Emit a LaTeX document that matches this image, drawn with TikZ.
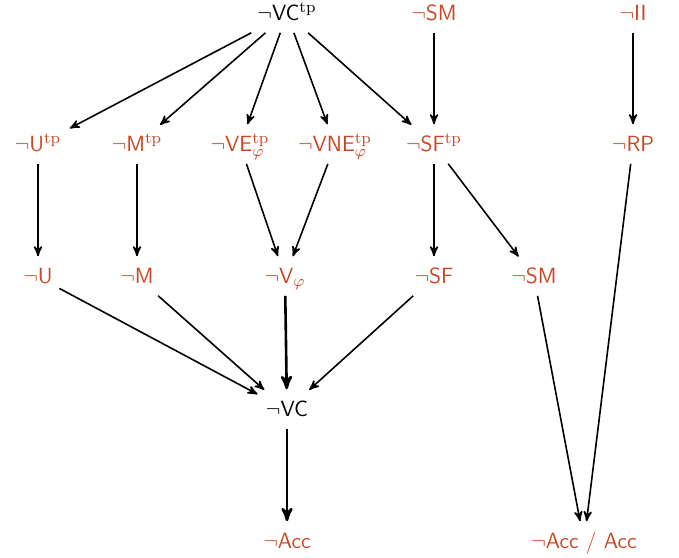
\documentclass[tikz,border=0pt]{standalone}
\usepackage{tikz}
\usetikzlibrary{arrows}
\usetikzlibrary{positioning}
\definecolor{negred}{RGB}{200,70,35}

\begin{document}
\begin{tikzpicture}[->,>=stealth',shorten >=1pt,x=0.5pt,y=-0.5pt,line width=0.8pt,
  main node/.style={inner sep=3pt,text height=9pt,text depth=3pt,font=\fontsize{11}{13}\sffamily},
  red node/.style={main node,text=negred}]
  \useasboundingbox (0,0) rectangle (679,557);

  % top row
  \node[main node] (VCtp) at (287,14) {$\neg$VC$^{\mathrm{tp}}$};
  \node[red node] (SMtop) at (434,14) {$\neg$SM};
  \node[red node] (II) at (633,14) {$\neg$II};

  % tp row
  \node[red node] (Utp) at (38,145) {$\neg$U$^{\mathrm{tp}}$};
  \node[red node] (Mtp) at (137,145) {$\neg$M$^{\mathrm{tp}}$};
  \node[red node] (VEtp) at (240,145) {$\neg$VE$^{\mathrm{tp}}_{\varphi}$};
  \node[red node] (VNEtp) at (335,145) {$\neg$VNE$^{\mathrm{tp}}_{\varphi}$};
  \node[red node] (SFtp) at (434,145) {$\neg$SF$^{\mathrm{tp}}$};
  \node[red node] (RP) at (633,145) {$\neg$RP};

  % middle row
  \node[red node] (U) at (38,277) {$\neg$U};
  \node[red node] (M) at (137,277) {$\neg$M};
  \node[red node] (Vphi) at (285,277) {$\neg$V$_{\varphi}$};
  \node[red node] (SF) at (434,277) {$\neg$SF};
  \node[red node] (SM) at (534,277) {$\neg$SM};

  % bottom
  \node[main node] (VC) at (287,410) {$\neg$VC};
  \node[red node] (Acc) at (287,542) {$\neg$Acc};
  \node[red node] (AccAcc) at (584,542) {$\neg$Acc / Acc};

  \path (VCtp) edge (Utp)
        (VCtp) edge (Mtp)
        (VCtp) edge (VEtp)
        (VCtp) edge (VNEtp)
        (VCtp) edge (SFtp)
        (SMtop) edge (SFtp)
        (II) edge (RP);
  \path (Utp) edge (U)
        (Mtp) edge (M)
        (VEtp) edge (Vphi)
        (VNEtp) edge (Vphi)
        (SFtp) edge (SF)
        (SFtp) edge (SM)
        (RP) edge (AccAcc)
        (SM) edge (AccAcc);
  \path (U) edge (VC)
        (M) edge (VC)
        (Vphi) edge [line width=1.3pt] (VC)
        (SF) edge (VC)
        (VC) edge [line width=1.3pt] (Acc);
\end{tikzpicture}
\end{document}
